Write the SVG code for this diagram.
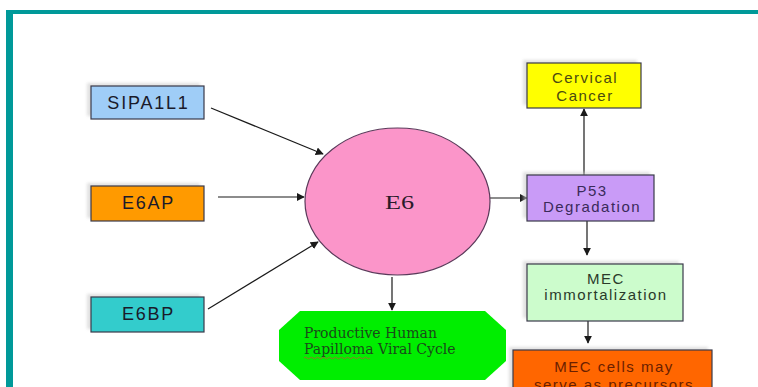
<svg xmlns="http://www.w3.org/2000/svg" width="758" height="387" viewBox="0 0 758 387">
<defs>
<style>
.box{stroke:#3a3a4a;stroke-width:1.2}
.sh{fill:#c8c8c8;opacity:0.55}
.lbl{font-family:"Liberation Sans",Arial,sans-serif;font-size:18px;letter-spacing:1.8px;text-anchor:middle;fill:#1a1a2a}
.sm{font-family:"Liberation Sans",Arial,sans-serif;font-size:15px;letter-spacing:1.5px;text-anchor:middle}
.con{stroke:#1a1a1a;stroke-width:1.2;fill:none;marker-end:url(#ah)}
</style>
<marker id="ah" viewBox="0 0 10 10" refX="9" refY="5" markerWidth="8" markerHeight="8" markerUnits="userSpaceOnUse" orient="auto">
<path d="M0,0 L10,5 L0,10 z" fill="#1a1a1a"/>
</marker>
<filter id="blur" x="-10%" y="-10%" width="120%" height="120%"><feGaussianBlur stdDeviation="1.5"/></filter>
</defs>
<rect width="758" height="387" fill="#ffffff"/>
<rect x="6" y="10" width="752" height="4" fill="#009999"/>
<rect x="6" y="10" width="7" height="377" fill="#009999"/>

<g id="connectors">
<line class="con" x1="211" y1="108" x2="323" y2="154"/>
<line class="con" x1="218" y1="197" x2="304" y2="197"/>
<line class="con" x1="208" y1="309" x2="318" y2="242"/>
<line class="con" x1="490" y1="198" x2="527" y2="198"/>
<line class="con" x1="392" y1="277" x2="392" y2="310"/>
<line class="con" x1="584" y1="175" x2="584" y2="109"/>
<line class="con" x1="587" y1="221" x2="587" y2="255"/>
<line class="con" x1="588" y1="321" x2="588" y2="343"/>
</g>

<g id="sipa1l1">
<rect class="sh" x="87" y="83" width="113" height="33" filter="url(#blur)"/>
<rect class="box" x="91" y="86" width="113" height="33" fill="#9fcdf7"/>
<text class="lbl" x="148.5" y="109">SIPA1L1</text>
</g>
<g id="e6ap">
<rect class="sh" x="87" y="183" width="113" height="35" filter="url(#blur)"/>
<rect class="box" x="91" y="186" width="113" height="35" fill="#ff9a00"/>
<text class="lbl" x="148.5" y="209">E6AP</text>
</g>
<g id="e6bp">
<rect class="sh" x="87" y="294" width="113" height="35" filter="url(#blur)"/>
<rect class="box" x="91" y="297" width="113" height="35" fill="#33cccc"/>
<text class="lbl" x="148.5" y="320">E6BP</text>
</g>

<g id="e6">
<ellipse cx="397.5" cy="201.5" rx="92.5" ry="73.5" fill="#fb95c9" stroke="#5a3a5a" stroke-width="1.2"/>
<text transform="translate(399.5,208.5) scale(1.38,1)" x="0" y="0" font-family="'Liberation Serif','Times New Roman',serif" font-size="19" text-anchor="middle" fill="#2a1a2a">E6</text>
</g>

<g id="productive">
<polygon points="300,311 485,311 506,330 506,361 485,380 300,380 279,361 279,330" fill="#00ee00"/>
<text font-family="'DejaVu Serif',serif" font-size="14" fill="#1a4a1a"><tspan x="304" y="338">Productive Human</tspan><tspan x="304" y="354">Papilloma Viral Cycle</tspan></text>
<path d="M304,358 q1.5,-1.5 3,0 t3,0 t3,0 t3,0 t3,0 t3,0 t3,0 t3,0 t3,0 t3,0 t3,0 t3,0 t3,0 t3,0 t3,0 t3,0 t3,0 t3,0 t3,0 t3,0 t3,0 t3,0" fill="none" stroke="#d04040" stroke-width="0.7"/>
</g>

<g id="cervical">
<rect class="sh" x="523" y="60" width="114" height="45" filter="url(#blur)"/>
<rect class="box" x="527" y="63" width="114" height="45" fill="#ffff00"/>
<text class="sm" fill="#4a4a10"><tspan x="585" y="83">Cervical</tspan><tspan x="585" y="101">Cancer</tspan></text>
</g>

<g id="p53">
<rect class="sh" x="523" y="172" width="127" height="46" filter="url(#blur)"/>
<rect class="box" x="527" y="175" width="127" height="46" fill="#c99bf7"/>
<text class="sm" fill="#3a2a5a"><tspan x="592" y="196">P53</tspan><tspan x="592" y="212">Degradation</tspan></text>
</g>

<g id="mec">
<rect class="sh" x="523" y="261" width="156" height="57" filter="url(#blur)"/>
<rect class="box" x="527" y="264" width="156" height="57" fill="#ccfccc"/>
<text class="sm" fill="#2a3a2a"><tspan x="606" y="284">MEC</tspan><tspan x="606" y="300">immortalization</tspan></text>
</g>

<g id="mec-cells">
<rect class="sh" x="509" y="347" width="199" height="45" filter="url(#blur)"/>
<rect class="box" x="513" y="350" width="199" height="45" fill="#ff6600"/>
<text class="sm" fill="#6a2000"><tspan x="614" y="372">MEC cells may</tspan><tspan x="614" y="390">serve as precursors</tspan></text>
</g>
</svg>
